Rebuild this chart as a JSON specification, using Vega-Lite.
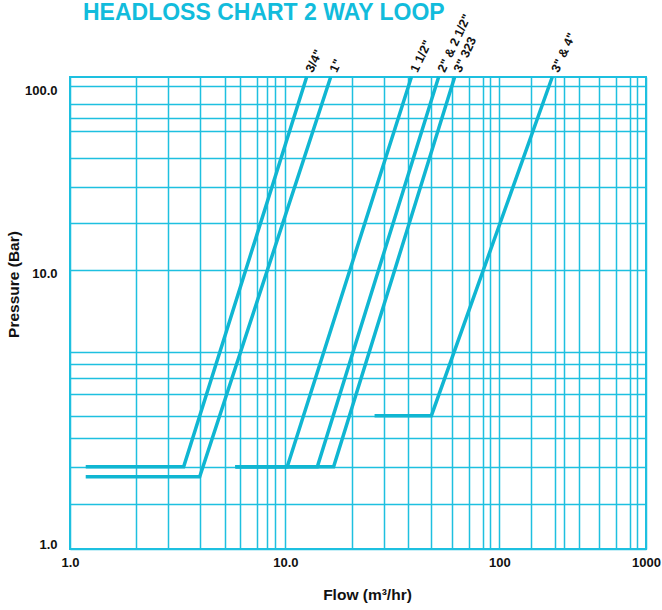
{
  "$schema": "https://vega.github.io/schema/vega-lite/v6.json",
  "autosize": "none",
  "padding": {"left": 70, "top": 77, "right": 16, "bottom": 61},
  "width": 576,
  "height": 472,
  "background": "white",
  "title": {
    "text": "HEADLOSS CHART 2 WAY LOOP",
    "anchor": "start",
    "frame": "group",
    "dx": 13,
    "offset": 0,
    "dy": 36,
    "baseline": "bottom",
    "font": "Liberation Sans",
    "fontSize": 23,
    "fontWeight": "bold",
    "color": "#12BCDC"
  },
  "config": {
    "view": {"stroke": "#1EC0E0", "strokeWidth": 2},
    "font": "Liberation Sans"
  },
  "datasets": {
    "lines": [
      {"series": "3/4\"", "k": 1, "flow": 1.183, "pressure": 1.97},
      {"series": "3/4\"", "k": 2, "flow": 3.37, "pressure": 1.97},
      {"series": "3/4\"", "k": 3, "flow": 12.57, "pressure": 112},
      {"series": "1\"", "k": 1, "flow": 1.183, "pressure": 1.814},
      {"series": "1\"", "k": 2, "flow": 4.0, "pressure": 1.814},
      {"series": "1\"", "k": 3, "flow": 16.28, "pressure": 112},
      {"series": "1 1/2\"", "k": 1, "flow": 5.86, "pressure": 1.97},
      {"series": "1 1/2\"", "k": 2, "flow": 10.2, "pressure": 1.97},
      {"series": "1 1/2\"", "k": 3, "flow": 38.8, "pressure": 112},
      {"series": "2\" & 2 1/2\"", "k": 1, "flow": 5.86, "pressure": 1.97},
      {"series": "2\" & 2 1/2\"", "k": 2, "flow": 14.1, "pressure": 1.97},
      {"series": "2\" & 2 1/2\"", "k": 3, "flow": 52.0, "pressure": 112},
      {"series": "3\" 323", "k": 1, "flow": 5.86, "pressure": 1.97},
      {"series": "3\" 323", "k": 2, "flow": 16.8, "pressure": 1.97},
      {"series": "3\" 323", "k": 3, "flow": 61.8, "pressure": 112},
      {"series": "3\" & 4\"", "k": 1, "flow": 26.1, "pressure": 3.0},
      {"series": "3\" & 4\"", "k": 2, "flow": 48.1, "pressure": 3.0},
      {"series": "3\" & 4\"", "k": 3, "flow": 229.4, "pressure": 112}
    ],
    "labels": [
      {"series": "3/4\"", "flow": 12.57, "pressure": 112},
      {"series": "1\"", "flow": 16.28, "pressure": 112},
      {"series": "1 1/2\"", "flow": 38.8, "pressure": 112},
      {"series": "2\" & 2 1/2\"", "flow": 52.0, "pressure": 112},
      {"series": "3\" 323", "flow": 61.8, "pressure": 112},
      {"series": "3\" & 4\"", "flow": 229.4, "pressure": 112}
    ]
  },
  "encoding": {
    "x": {
      "field": "flow",
      "type": "quantitative",
      "scale": {"type": "log", "domain": [1, 10, 100, 1000], "range": [0, 215.4, 429.4, 576]},
      "axis": {
        "title": "Flow (m³/hr)",
        "titleFontSize": 15.5,
        "titleFontWeight": "bold",
        "titleColor": "#111",
        "titleX": 297,
        "titleY": 45,
        "titleBaseline": "middle",
        "values": [1, 2.018, 2.851, 4.014, 5.266, 6.154, 7.38, 8.25, 8.987, 10, 20.57, 28.89, 37.4, 48.1, 60.3, 72.1, 84.2, 90.4, 100, 165.1, 240.4, 273.8, 348, 481.3, 621.2, 778.4, 868.6, 1000],
        "labelExpr": "datum.value == 1 ? '1.0' : datum.value == 10 ? '10.0' : datum.value == 100 ? '100' : datum.value == 1000 ? '1000' : ''",
        "labelFontSize": 13,
        "labelFontWeight": "bold",
        "labelColor": "#111",
        "labelPadding": 7,
        "labelOverlap": false,
        "labelFlush": false,
        "labelBound": false,
        "ticks": false,
        "domain": false,
        "grid": true,
        "gridColor": "#1EC0E0",
        "gridWidth": 1.5,
        "gridOpacity": 1
      }
    },
    "y": {
      "field": "pressure",
      "type": "quantitative",
      "scale": {"type": "log", "domain": [1, 10, 100, 112], "range": [472, 192.5, 9, 0]},
      "axis": {
        "title": "Pressure (Bar)",
        "titleFontSize": 15.5,
        "titleFontWeight": "bold",
        "titleColor": "#111",
        "titleX": -57,
        "titleY": 207,
        "titleBaseline": "middle",
        "values": [1, 1.449, 1.97, 2.49, 3, 3.585, 4.08, 4.58, 5.08, 10, 17.85, 28.05, 40.36, 56.64, 66.7, 79.5, 100],
        "labelExpr": "datum.value == 1 ? '1.0' : datum.value == 10 ? '10.0' : datum.value == 100 ? '100.0' : ''",
        "labelFontSize": 13,
        "labelFontWeight": "bold",
        "labelColor": "#111",
        "labelPadding": 13,
        "labelOffset": {"condition": {"test": "datum.value <= 1", "value": -5}, "value": 4},
        "labelOverlap": false,
        "labelFlush": false,
        "labelBound": false,
        "ticks": false,
        "domain": false,
        "grid": true,
        "gridColor": "#1EC0E0",
        "gridWidth": 1.5,
        "gridOpacity": 1
      }
    }
  },
  "layer": [
    {
      "data": {"name": "lines"},
      "mark": {"type": "line", "color": "#10B6D2", "strokeWidth": 3.5, "clip": false},
      "encoding": {
        "detail": {"field": "series", "type": "nominal"},
        "order": {"field": "k", "type": "quantitative"}
      }
    },
    {
      "data": {"name": "labels"},
      "mark": {"type": "text", "angle": -65, "align": "left", "baseline": "middle", "dx": 6, "fontSize": 12.5, "fontWeight": "bold", "color": "#111"},
      "encoding": {
        "text": {"field": "series", "type": "nominal"}
      }
    }
  ]
}
